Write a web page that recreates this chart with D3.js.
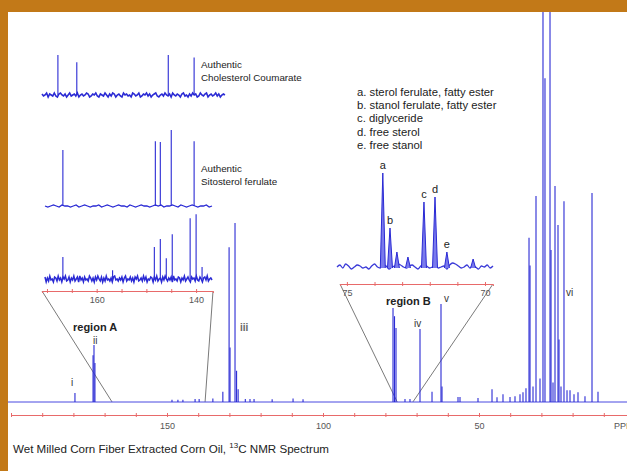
<!DOCTYPE html>
<html>
<head>
<meta charset="utf-8">
<script src="https://cdn.jsdelivr.net/npm/d3@7"></script>
<style>
body { margin: 0; background: #fff; }
svg { display: block; font-family: "Liberation Sans", Arial, sans-serif; }
</style>
</head>
<body>
<script>
var w = 627;
var h = 471;

// main spectrum peaks (ppm, intensity in % of plot height)
var mainPpm = [179.5, 173.7, 173.4, 173.1, 148.4, 146.5, 144.9, 141.0, 139.7, 135.3,
    132.1, 130.1, 129.8, 128.2, 127.7, 127.2, 124.9, 123.4, 122.1, 116.3, 109.6, 106.4,
    77.56, 77.08, 76.6, 73.72, 72.12, 68.91, 65.06, 62.18, 61.86, 56.73, 56.09, 50.32, 45.83, 44.23,
    42.31, 40.06, 38.46, 36.86, 35.9, 34.94, 33.97, 33.65, 32.69, 31.73, 30.45, 29.49, 28.85, 27.24,
    26.92, 26.28, 25.64, 24.68, 24.36, 23.72, 22.76, 21.79, 20.83, 19.55, 18.27, 16.03, 13.78, 11.86];
var mainHeight = [2.3, 12, 14.6, 10, 0.6, 0.6, 0.6, 0.8, 0.8, 0.9,
    2.6, 39.7, 14, 45.9, 8, 3.3, 0.8, 0.8, 0.8, 0.7, 0.9, 0.7,
    24.1, 22, 19, 0.8, 0.8, 18.7, 2.6, 25.1, 4, 1.3, 1.3, 1.0, 3.3, 1.2,
    2.0, 1.3, 1.5, 2.0, 2.5, 3.5, 42.1, 35, 4, 52.8, 6, 110, 83, 110,
    39, 5, 55.4, 45.4, 16, 4, 51.5, 3, 3, 2, 2.5, 1.5, 53.6, 2.6];
var mainTicks = d3.range(0, 201, 10);
var mainTickLabels = [150, 100, 50];

// region A insets
var cholPpm = [167.8, 164.0, 145.6, 140.4];
var cholHeight = [50, 41, 50, 47];
var cholNoise = [1, -1, 0, 2, -2, 1, 0, -1, 2, -1, -2, 1, 2, 0, -1, 1, -2, 0, 2, -1,
    0, 1, -1, 2, -2, 0, 1, -1, 0, 2, 1, -2, -1, 1, 0, 2, -1, -2, 1, 0,
    -1, 2, 0, -2, 1, -1, 2, 1, -2, 0, 1, -1, -2, 2, 0, 1, -1, 0, -2, 2,
    1, -1, 0, 2, -2, -1, 1, 0, 2, -1, 1, -2, 0, 1, 2, -1, -2, 0, 1, -1,
    2, 0, -1, 1, -2, 2, 0, -1, 1, 0, -2, 1, 2, -1, 0, -2, 1, -1, 2, 0,
    1, -2, -1, 2, 0, -1, 1, 2, -2, 0, 1, -1, 0, 2, -1, 1, -2, 0, 1, 0];
var sitoPpm = [166.8, 148.2, 147.2, 145.0, 140.4];
var sitoHeight = [70, 81, 80, 95, 81];
var sitoNoise = [0, -1, 0, 1, 0, -1, 1, 0, 0, -1, 0, 1, -1, 0, 1, 0, -1, 0, 0, 1,
    -1, 0, 1, 0, -1, 0, 1, 0, 0, -1, 1, 0, -1, 0, 1, 0, 0, -1, 0, 1,
    0, 1, -1, 0, 0, 1, 0, -1, 1, 0, -1, 0, 1, 0, -1, 0, 0, 1, -1, 0];
var samplePpm = [166.8, 156.8, 148.4, 147.2, 146.0, 144.8, 141.2, 140.0, 138.8];
var sampleHeight = [27.5, 11, 40, 50, 26, 56, 76, 81, 15];
var sampleNoise = [2, -3, 1, -2, 3, -1, 0, -3, 2, 1, -2, 3, -1, 1, -3, 2, 0, 3, -2, -1,
    2, -3, 1, -1, 3, -2, 0, 2, -3, 3, -1, 1, -3, 2, -1, 0, -2, 3, 1, -2,
    1, -3, 2, -1, 3, 0, -2, 2, -3, 1, -2, 3, -1, 0, -2, 1, -3, 2, 3, -1,
    0, -2, 1, -1, 2, -3, 1, 3, -2, 0, -1, 2, -2, 1, -3, 2, 0, 3, -2, -1,
    1, -2, 3, -1, 2, -3, 0, -1, 2, 1, -3, 2, -1, 3, -2, 0, 1, -3, 2, -1,
    3, 0, -2, 1, -1, 2, -3, 3, -1, 0, -2, 2, 1, -3, 1, -1, 3, -2, 0, 2,
    -1, -3, 2, 0, 1, -2, 3, -1, -2, 2, 0, -3, 1, 2, -1, 3, -2, 0, 1, -1];
var regionATicks = [170, 165, 160, 155, 150, 145, 140];
var regionATickLabels = [160, 140];

// region B inset
var bPpm = [73.70, 73.44, 73.19, 72.79, 72.21, 71.81, 71.38, 70.43];
var bHeight = [94, 39, 15, 10, 65, 70, 15, 8];
var bLabels = ["a", "b", "", "", "c", "d", "e", ""];
var bNoise = [0, 2, -1, 3, 1, -2, 0, 2, 1, -1, 0, -2, 1, 3, 0, -1, 2, 1, -2, 0,
    1, 3, 2, 0, -1, 1, 2, 0, -2, 1, 3, 1, -1, 0, 2, -1, 0, 1, -2, 2,
    4, 3, 1, -1, 0, 2, -1, 1, 0, -2, 1, 0, 2, -1, 1];
var regionBTicks = [75, 74, 73, 72, 71, 70];
var regionBTickLabels = [75, 70];

var legendLines = ["a. sterol ferulate, fatty ester", "b. stanol ferulate, fatty ester",
    "c. diglyceride", "d. free sterol", "e. free stanol"];

var blue = "#2a2ad4";
var red = "#e86a6a";
var grey = "#7a7a7a";

var svg = d3.select("body").append("svg").attr("width", w).attr("height", h);
svg.append("rect").attr("width", w).attr("height", h).attr("fill", "#fff");

// scales
var x = d3.scaleLinear().domain([200, 0]).range([11, 635]);
var y = d3.scaleLinear().domain([0, 100]).range([402, 12]);
var xa = d3.scaleLinear().domain([171, 136.6]).range([42, 213]);
var xb = d3.scaleLinear().domain([75.25, 69.71]).range([340, 493]);

function styleAxis(g, size) {
    g.select(".domain").attr("stroke", red);
    g.selectAll(".tick line").attr("stroke", red).attr("y1", -2);
    g.selectAll(".tick text").attr("fill", "#555").attr("font-size", size)
        .attr("font-family", "\"Liberation Sans\", Arial, sans-serif");
}

// main axis
var mainAxis = svg.append("g").attr("transform", "translate(0,415)")
    .call(d3.axisBottom(x).tickValues(mainTicks).tickSizeOuter(0).tickSize(2).tickPadding(6)
        .tickFormat(function(d) { return mainTickLabels.indexOf(d) >= 0 ? d : ""; }));
styleAxis(mainAxis, 9);
// axis unit, cut by the right edge as in the original
svg.append("text").attr("x", 614).attr("y", 429).attr("font-size", 9).attr("fill", "#555").text("PPM");

// zoom lines
function zoomLines(scale, range, axisY, mainRange) {
    [0, 1].forEach(function(i) {
        svg.append("line")
            .attr("x1", scale(range[i])).attr("y1", axisY)
            .attr("x2", x(mainRange[i])).attr("y2", y(0))
            .attr("stroke", grey).attr("stroke-width", 1);
    });
}
zoomLines(xa, xa.domain(), 291, [167.6, 137.8]);
zoomLines(xb, xb.domain(), 284, [76.2, 71.2]);

// main spectrum
svg.append("line").attr("x1", 8).attr("x2", w).attr("y1", y(0)).attr("y2", y(0))
    .attr("stroke", "#4848e0").attr("stroke-width", 1);
svg.selectAll(".pk").data(mainPpm).enter().append("line")
    .attr("x1", function(d) { return x(d); })
    .attr("x2", function(d) { return x(d); })
    .attr("y1", y(0))
    .attr("y2", function(d, i) { return y(mainHeight[i]); })
    .attr("stroke", blue).attr("stroke-width", 1.1);

// region A traces
function trace(range, base, noise, ppm, hgt, scale, noiseW) {
    var ys = d3.scaleLinear().domain([0, 100]).range([base, base - 80]);
    var xi = d3.scaleLinear().domain([0, noise.length - 1]).range([scale(range[0]), scale(range[1])]);
    svg.append("path").datum(noise)
        .attr("d", d3.line().x(function(d, i) { return xi(i); }).y(function(d) { return base - d; }))
        .attr("fill", "none").attr("stroke", blue).attr("stroke-width", noiseW);
    svg.append("g").selectAll("line").data(ppm).enter().append("line")
        .attr("x1", function(d) { return scale(d); })
        .attr("x2", function(d) { return scale(d); })
        .attr("y1", base)
        .attr("y2", function(d, i) { return ys(hgt[i]); })
        .attr("stroke", blue).attr("stroke-width", 1.1);
}
trace([171, 134.2], 95, cholNoise, cholPpm, cholHeight, xa, 1.6);
trace([170.4, 136.8], 206, sitoNoise, sitoPpm, sitoHeight, xa, 1.3);
trace([170.4, 136.8], 279, sampleNoise, samplePpm, sampleHeight, xa, 1.5);

var axA = svg.append("g").attr("transform", "translate(0,291)")
    .call(d3.axisBottom(xa).tickValues(regionATicks).tickSizeOuter(0).tickSize(2).tickPadding(4)
        .tickFormat(function(d) { return regionATickLabels.indexOf(d) >= 0 ? d : ""; }));
styleAxis(axA, 9);

// region B inset
var bBase = 267;
var yb = d3.scaleLinear().domain([0, 100]).range([bBase, bBase - 100]);
var xbi = d3.scaleLinear().domain([0, bNoise.length - 1]).range([337, 493]);
svg.append("path").datum(bNoise)
    .attr("d", d3.line().curve(d3.curveMonotoneX).x(function(d, i) { return xbi(i); }).y(function(d) { return bBase - d; }))
    .attr("fill", "none").attr("stroke", "#3a3ad8").attr("stroke-width", 1.3);
svg.append("g").selectAll("path").data(bPpm).enter().append("path")
    .attr("d", function(d, i) {
        var px = xb(d);
        return "M" + (px - 2.5) + "," + (bBase + 1) + "L" + px + "," + yb(bHeight[i]) + "L" + (px + 2.5) + "," + (bBase + 1);
    })
    .attr("fill", "#7a7aec").attr("stroke", blue).attr("stroke-width", 1);
svg.append("g").selectAll("text").data(bPpm).enter().append("text")
    .attr("x", function(d) { return xb(d); })
    .attr("y", function(d, i) { return yb(bHeight[i]) - 4; })
    .attr("text-anchor", "middle").attr("font-size", 11).attr("fill", "#222")
    .text(function(d, i) { return bLabels[i]; });

var axB = svg.append("g").attr("transform", "translate(0,284)")
    .call(d3.axisBottom(xb).tickValues(regionBTicks).tickSizeOuter(0).tickSize(2).tickPadding(4)
        .tickFormat(function(d) { return regionBTickLabels.indexOf(d) >= 0 ? d : ""; }));
styleAxis(axB, 9);

// legend
svg.append("g").selectAll("text").data(legendLines).enter().append("text")
    .attr("x", 357).attr("y", function(d, i) { return 96 + i * 13.2; })
    .attr("font-size", 11.3).attr("fill", "#222").text(function(d) { return d; });

// text labels
function label(tx, ty, str, size, bold, col) {
    svg.append("text").attr("x", tx).attr("y", ty).attr("font-size", size)
        .attr("font-weight", bold ? "bold" : "normal").attr("fill", col || "#222").text(str);
}
label(201, 68, "Authentic", 9.8);
label(201, 81, "Cholesterol Coumarate", 9.8);
label(201, 172, "Authentic", 9.8);
label(201, 185, "Sitosterol ferulate", 9.8);
label(73, 331, "region A", 11, true);
label(386, 305, "region B", 11, true);
label(71, 386, "i", 10, false, "#333");
label(93, 344, "ii", 10, false, "#333");
label(240, 331, "iii", 10, true, "#666");
label(414, 327, "iv", 10, false, "#333");
label(444, 302, "v", 10, false, "#333");
label(566, 296, "vi", 10, false, "#333");

var title = svg.append("text").attr("x", 13).attr("y", 453).attr("font-size", 11.6).attr("fill", "#222");
title.append("tspan").text("Wet Milled Corn Fiber  Extracted Corn Oil, ");
title.append("tspan").attr("font-size", 8).attr("dy", -5).text("13");
title.append("tspan").attr("dy", 5).text("C NMR Spectrum");

// orange frame
svg.append("rect").attr("x", 0).attr("y", 0).attr("width", w).attr("height", 12).attr("fill", "#c27918");
svg.append("rect").attr("x", 0).attr("y", 0).attr("width", 8).attr("height", h).attr("fill", "#c27918");
</script>
</body>
</html>
